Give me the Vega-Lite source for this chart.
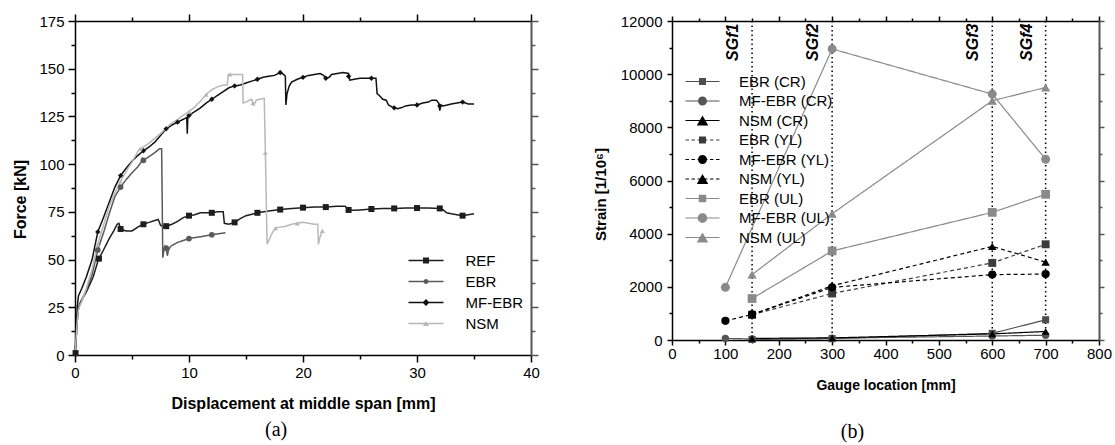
{
  "$schema": "https://vega.github.io/schema/vega-lite/v6.json",
  "padding": {"left": 12, "top": 13, "right": 5, "bottom": 5},
  "spacing": 53,
  "resolve": {"scale": {"color": "independent", "fill": "independent", "shape": "independent", "size": "independent", "strokeDash": "independent"}, "legend": {"color": "independent", "fill": "independent", "shape": "independent", "size": "independent", "strokeDash": "independent"}},
  "config": {"view": {"stroke": null}, "font": "Liberation Sans", "axis": {"grid": false, "labelColor": "#000", "titleColor": "#000", "labelFont": "Liberation Sans", "titleFont": "Liberation Sans"}},
  "datasets": {
    "curves": [
      {"s":"REF","d":0,"F":0},{"s":"REF","d":0.1,"F":8},{"s":"REF","d":0.2,"F":18},{"s":"REF","d":0.3,"F":24},{"s":"REF","d":0.5,"F":28},{"s":"REF","d":0.8,"F":31},{"s":"REF","d":1.0,"F":33},{"s":"REF","d":1.3,"F":37},{"s":"REF","d":1.6,"F":41},{"s":"REF","d":2.0,"F":49},{"s":"REF","d":2.1,"F":50.5},{"s":"REF","d":2.5,"F":55},{"s":"REF","d":3.0,"F":61},{"s":"REF","d":3.4,"F":65},{"s":"REF","d":3.7,"F":68.5},{"s":"REF","d":3.85,"F":69},{"s":"REF","d":4.0,"F":66},{"s":"REF","d":4.2,"F":65.5},{"s":"REF","d":4.5,"F":65},{"s":"REF","d":5.0,"F":65},{"s":"REF","d":5.5,"F":67},{"s":"REF","d":6.0,"F":68.5},{"s":"REF","d":6.5,"F":69.5},{"s":"REF","d":7.0,"F":70.5},{"s":"REF","d":7.3,"F":71},{"s":"REF","d":7.5,"F":68},{"s":"REF","d":7.8,"F":67},{"s":"REF","d":8.0,"F":67.5},{"s":"REF","d":8.5,"F":68.5},{"s":"REF","d":9.0,"F":70},{"s":"REF","d":9.5,"F":72},{"s":"REF","d":10.0,"F":73},{"s":"REF","d":10.5,"F":73.5},{"s":"REF","d":11.0,"F":74.5},{"s":"REF","d":12.0,"F":74.5},{"s":"REF","d":12.5,"F":75},{"s":"REF","d":13.0,"F":75},{"s":"REF","d":13.1,"F":69},{"s":"REF","d":13.5,"F":68.5},{"s":"REF","d":14.0,"F":69.5},{"s":"REF","d":14.5,"F":71.5},{"s":"REF","d":15.0,"F":73},{"s":"REF","d":16.0,"F":74.5},{"s":"REF","d":17.0,"F":75.5},{"s":"REF","d":18.0,"F":76.2},{"s":"REF","d":19.0,"F":76.8},{"s":"REF","d":20.0,"F":77.2},{"s":"REF","d":21.0,"F":77.5},{"s":"REF","d":22.0,"F":77.5},{"s":"REF","d":23.0,"F":78},{"s":"REF","d":23.7,"F":78},{"s":"REF","d":24.0,"F":76},{"s":"REF","d":24.5,"F":75.8},{"s":"REF","d":25.0,"F":76},{"s":"REF","d":26.0,"F":76.5},{"s":"REF","d":27.0,"F":76.8},{"s":"REF","d":28.0,"F":76.8},{"s":"REF","d":29.0,"F":77},{"s":"REF","d":30.0,"F":77},{"s":"REF","d":31.0,"F":77},{"s":"REF","d":32.0,"F":76.8},{"s":"REF","d":32.3,"F":76},{"s":"REF","d":32.6,"F":74.5},{"s":"REF","d":33.0,"F":74},{"s":"REF","d":34.0,"F":73},{"s":"REF","d":34.5,"F":73.5},{"s":"REF","d":35.0,"F":74},
      {"s":"EBR","d":0,"F":0},{"s":"EBR","d":0.1,"F":10},{"s":"EBR","d":0.2,"F":20},{"s":"EBR","d":0.3,"F":25},{"s":"EBR","d":0.6,"F":29},{"s":"EBR","d":1.0,"F":34},{"s":"EBR","d":1.5,"F":42},{"s":"EBR","d":2.0,"F":55},{"s":"EBR","d":2.5,"F":64},{"s":"EBR","d":3.0,"F":74},{"s":"EBR","d":3.5,"F":83},{"s":"EBR","d":4.0,"F":88},{"s":"EBR","d":4.5,"F":92},{"s":"EBR","d":5.0,"F":95.5},{"s":"EBR","d":5.5,"F":98.5},{"s":"EBR","d":5.8,"F":101},{"s":"EBR","d":5.9,"F":103},{"s":"EBR","d":6.0,"F":102},{"s":"EBR","d":6.5,"F":104},{"s":"EBR","d":7.0,"F":106},{"s":"EBR","d":7.4,"F":108},{"s":"EBR","d":7.6,"F":108},{"s":"EBR","d":7.65,"F":80},{"s":"EBR","d":7.7,"F":51},{"s":"EBR","d":7.8,"F":55},{"s":"EBR","d":7.9,"F":57},{"s":"EBR","d":8.0,"F":56},{"s":"EBR","d":8.1,"F":52},{"s":"EBR","d":8.2,"F":55},{"s":"EBR","d":8.4,"F":57},{"s":"EBR","d":8.7,"F":58},{"s":"EBR","d":9.0,"F":59},{"s":"EBR","d":9.5,"F":60},{"s":"EBR","d":10.0,"F":61},{"s":"EBR","d":11.0,"F":62},{"s":"EBR","d":12.0,"F":63},{"s":"EBR","d":13.2,"F":64},
      {"s":"MF-EBR","d":0,"F":0},{"s":"MF-EBR","d":0.1,"F":12},{"s":"MF-EBR","d":0.2,"F":25},{"s":"MF-EBR","d":0.3,"F":31},{"s":"MF-EBR","d":0.6,"F":35},{"s":"MF-EBR","d":1.0,"F":41},{"s":"MF-EBR","d":1.5,"F":50},{"s":"MF-EBR","d":2.0,"F":64.5},{"s":"MF-EBR","d":2.5,"F":72},{"s":"MF-EBR","d":3.0,"F":80},{"s":"MF-EBR","d":3.5,"F":88},{"s":"MF-EBR","d":4.0,"F":94},{"s":"MF-EBR","d":4.5,"F":98},{"s":"MF-EBR","d":5.0,"F":101.5},{"s":"MF-EBR","d":5.5,"F":104.5},{"s":"MF-EBR","d":6.0,"F":107},{"s":"MF-EBR","d":6.5,"F":109},{"s":"MF-EBR","d":7.0,"F":111.5},{"s":"MF-EBR","d":7.5,"F":115},{"s":"MF-EBR","d":8.0,"F":118.5},{"s":"MF-EBR","d":8.5,"F":120.5},{"s":"MF-EBR","d":9.0,"F":122},{"s":"MF-EBR","d":9.5,"F":123.5},{"s":"MF-EBR","d":9.8,"F":124.5},{"s":"MF-EBR","d":9.85,"F":116},{"s":"MF-EBR","d":9.9,"F":125},{"s":"MF-EBR","d":10.0,"F":125.5},{"s":"MF-EBR","d":10.5,"F":127.5},{"s":"MF-EBR","d":11.0,"F":129.5},{"s":"MF-EBR","d":11.5,"F":132},{"s":"MF-EBR","d":12.0,"F":134},{"s":"MF-EBR","d":12.5,"F":136},{"s":"MF-EBR","d":13.0,"F":138},{"s":"MF-EBR","d":13.5,"F":140},{"s":"MF-EBR","d":14.0,"F":141},{"s":"MF-EBR","d":14.5,"F":141.5},{"s":"MF-EBR","d":15.0,"F":142.5},{"s":"MF-EBR","d":15.5,"F":143.5},{"s":"MF-EBR","d":16.0,"F":144.5},{"s":"MF-EBR","d":16.5,"F":145.5},{"s":"MF-EBR","d":17.0,"F":146},{"s":"MF-EBR","d":17.5,"F":146.5},{"s":"MF-EBR","d":18.0,"F":148},{"s":"MF-EBR","d":18.3,"F":147},{"s":"MF-EBR","d":18.45,"F":146},{"s":"MF-EBR","d":18.5,"F":131},{"s":"MF-EBR","d":18.6,"F":137},{"s":"MF-EBR","d":18.8,"F":141},{"s":"MF-EBR","d":19.0,"F":143},{"s":"MF-EBR","d":19.5,"F":144.5},{"s":"MF-EBR","d":20.0,"F":145.5},{"s":"MF-EBR","d":20.5,"F":146.5},{"s":"MF-EBR","d":21.0,"F":147},{"s":"MF-EBR","d":21.5,"F":147.5},{"s":"MF-EBR","d":21.8,"F":146.5},{"s":"MF-EBR","d":22.0,"F":145},{"s":"MF-EBR","d":22.3,"F":145.5},{"s":"MF-EBR","d":22.5,"F":147},{"s":"MF-EBR","d":23.0,"F":147.5},{"s":"MF-EBR","d":23.5,"F":148},{"s":"MF-EBR","d":24.0,"F":147.5},{"s":"MF-EBR","d":24.1,"F":144},{"s":"MF-EBR","d":24.5,"F":144.5},{"s":"MF-EBR","d":25.0,"F":145},{"s":"MF-EBR","d":25.5,"F":145},{"s":"MF-EBR","d":26.0,"F":145},{"s":"MF-EBR","d":26.4,"F":145},{"s":"MF-EBR","d":26.5,"F":137},{"s":"MF-EBR","d":26.7,"F":136},{"s":"MF-EBR","d":27.0,"F":134},{"s":"MF-EBR","d":27.3,"F":133.5},{"s":"MF-EBR","d":27.5,"F":131},{"s":"MF-EBR","d":27.8,"F":130},{"s":"MF-EBR","d":28.0,"F":129.5},{"s":"MF-EBR","d":28.3,"F":129},{"s":"MF-EBR","d":28.6,"F":129.5},{"s":"MF-EBR","d":29.0,"F":130.5},{"s":"MF-EBR","d":29.5,"F":131},{"s":"MF-EBR","d":30.0,"F":131},{"s":"MF-EBR","d":30.5,"F":132},{"s":"MF-EBR","d":31.0,"F":132.5},{"s":"MF-EBR","d":31.3,"F":133.5},{"s":"MF-EBR","d":31.7,"F":133.5},{"s":"MF-EBR","d":31.9,"F":132},{"s":"MF-EBR","d":32.0,"F":128},{"s":"MF-EBR","d":32.1,"F":131},{"s":"MF-EBR","d":32.3,"F":130.5},{"s":"MF-EBR","d":33.0,"F":131.5},{"s":"MF-EBR","d":33.5,"F":132},{"s":"MF-EBR","d":34.0,"F":132.5},{"s":"MF-EBR","d":34.5,"F":131.5},{"s":"MF-EBR","d":35.0,"F":131.5},
      {"s":"NSM","d":0,"F":0},{"s":"NSM","d":0.1,"F":9},{"s":"NSM","d":0.2,"F":18},{"s":"NSM","d":0.3,"F":24},{"s":"NSM","d":0.6,"F":28},{"s":"NSM","d":1.0,"F":35},{"s":"NSM","d":1.5,"F":45},{"s":"NSM","d":2.0,"F":58},{"s":"NSM","d":2.5,"F":68},{"s":"NSM","d":3.0,"F":78},{"s":"NSM","d":3.5,"F":85},{"s":"NSM","d":4.0,"F":91},{"s":"NSM","d":4.5,"F":96.5},{"s":"NSM","d":5.0,"F":101},{"s":"NSM","d":5.5,"F":106.5},{"s":"NSM","d":5.7,"F":108},{"s":"NSM","d":6.0,"F":109},{"s":"NSM","d":6.5,"F":111},{"s":"NSM","d":7.0,"F":113.5},{"s":"NSM","d":7.5,"F":116},{"s":"NSM","d":8.0,"F":119},{"s":"NSM","d":8.5,"F":121.5},{"s":"NSM","d":9.0,"F":123.5},{"s":"NSM","d":9.5,"F":125.5},{"s":"NSM","d":10.0,"F":127.5},{"s":"NSM","d":10.5,"F":130},{"s":"NSM","d":11.0,"F":133},{"s":"NSM","d":11.5,"F":136.5},{"s":"NSM","d":12.0,"F":139},{"s":"NSM","d":12.5,"F":140.5},{"s":"NSM","d":13.0,"F":141.5},{"s":"NSM","d":13.35,"F":141.5},{"s":"NSM","d":13.45,"F":147},{"s":"NSM","d":14.0,"F":147},{"s":"NSM","d":14.7,"F":147},{"s":"NSM","d":14.75,"F":132},{"s":"NSM","d":15.0,"F":132.5},{"s":"NSM","d":15.3,"F":133.5},{"s":"NSM","d":15.5,"F":134},{"s":"NSM","d":15.7,"F":131},{"s":"NSM","d":15.9,"F":133.5},{"s":"NSM","d":16.2,"F":134},{"s":"NSM","d":16.6,"F":134.5},{"s":"NSM","d":16.7,"F":106},{"s":"NSM","d":16.85,"F":58},{"s":"NSM","d":17.0,"F":60},{"s":"NSM","d":17.3,"F":64},{"s":"NSM","d":17.6,"F":66.5},{"s":"NSM","d":18.0,"F":67},{"s":"NSM","d":18.5,"F":67.5},{"s":"NSM","d":19.0,"F":68.5},{"s":"NSM","d":19.5,"F":69},{"s":"NSM","d":20.0,"F":69.5},{"s":"NSM","d":20.5,"F":69},{"s":"NSM","d":21.0,"F":68.5},{"s":"NSM","d":21.3,"F":68.5},{"s":"NSM","d":21.35,"F":58},{"s":"NSM","d":21.5,"F":62},{"s":"NSM","d":21.7,"F":65},{"s":"NSM","d":21.8,"F":64.5}
    ],
    "marksA": [
      {"s":"REF","d":0.05,"F":1},{"s":"REF","d":2.1,"F":50.5},{"s":"REF","d":4.0,"F":66},{"s":"REF","d":6.0,"F":68.5},{"s":"REF","d":8.0,"F":67.5},{"s":"REF","d":10.0,"F":73},{"s":"REF","d":12.0,"F":74.5},{"s":"REF","d":14.0,"F":69.5},{"s":"REF","d":16.0,"F":74.5},{"s":"REF","d":18.0,"F":76.2},{"s":"REF","d":20.0,"F":77.2},{"s":"REF","d":22.0,"F":77.5},{"s":"REF","d":24.0,"F":76},{"s":"REF","d":26.0,"F":76.5},{"s":"REF","d":28.0,"F":76.8},{"s":"REF","d":30.0,"F":77},{"s":"REF","d":32.0,"F":76.8},{"s":"REF","d":34.0,"F":73},
      {"s":"EBR","d":2.0,"F":55},{"s":"EBR","d":4.0,"F":88},{"s":"EBR","d":6.0,"F":102},{"s":"EBR","d":8.0,"F":56},{"s":"EBR","d":10.0,"F":61},{"s":"EBR","d":12.0,"F":63},
      {"s":"MF-EBR","d":2.0,"F":64.5},{"s":"MF-EBR","d":4.0,"F":94},{"s":"MF-EBR","d":6.0,"F":107},{"s":"MF-EBR","d":8.0,"F":118.5},{"s":"MF-EBR","d":9.0,"F":122},{"s":"MF-EBR","d":10.0,"F":125.5},{"s":"MF-EBR","d":12.0,"F":134},{"s":"MF-EBR","d":14.0,"F":141},{"s":"MF-EBR","d":16.0,"F":144.5},{"s":"MF-EBR","d":18.0,"F":148},{"s":"MF-EBR","d":20.0,"F":145.5},{"s":"MF-EBR","d":22.0,"F":145},{"s":"MF-EBR","d":24.0,"F":146},{"s":"MF-EBR","d":26.0,"F":145},{"s":"MF-EBR","d":28.0,"F":129.5},{"s":"MF-EBR","d":30.0,"F":131},{"s":"MF-EBR","d":32.0,"F":130.5},{"s":"MF-EBR","d":34.0,"F":132.5},
      {"s":"NSM","d":2.0,"F":58},{"s":"NSM","d":4.0,"F":91},{"s":"NSM","d":5.7,"F":108},{"s":"NSM","d":10.0,"F":127.5},{"s":"NSM","d":11.5,"F":136.5},{"s":"NSM","d":13.6,"F":147},{"s":"NSM","d":15.6,"F":132},{"s":"NSM","d":16.7,"F":106},{"s":"NSM","d":17.6,"F":66.5},{"s":"NSM","d":19.5,"F":69},{"s":"NSM","d":21.7,"F":65}
    ],
    "strain": [
      {"s":"EBR (CR)","g":150,"e":20},{"s":"EBR (CR)","g":300,"e":50},{"s":"EBR (CR)","g":600,"e":250},{"s":"EBR (CR)","g":700,"e":760},
      {"s":"MF-EBR (CR)","g":100,"e":60},{"s":"MF-EBR (CR)","g":150,"e":40},{"s":"MF-EBR (CR)","g":300,"e":70},{"s":"MF-EBR (CR)","g":600,"e":150},{"s":"MF-EBR (CR)","g":700,"e":180},
      {"s":"NSM (CR)","g":150,"e":60},{"s":"NSM (CR)","g":300,"e":80},{"s":"NSM (CR)","g":600,"e":230},{"s":"NSM (CR)","g":700,"e":320},
      {"s":"EBR (YL)","g":150,"e":950},{"s":"EBR (YL)","g":300,"e":1750},{"s":"EBR (YL)","g":600,"e":2900},{"s":"EBR (YL)","g":700,"e":3600},
      {"s":"MF-EBR (YL)","g":100,"e":720},{"s":"MF-EBR (YL)","g":150,"e":960},{"s":"MF-EBR (YL)","g":300,"e":1980},{"s":"MF-EBR (YL)","g":600,"e":2460},{"s":"MF-EBR (YL)","g":700,"e":2480},
      {"s":"NSM (YL)","g":150,"e":960},{"s":"NSM (YL)","g":300,"e":2040},{"s":"NSM (YL)","g":600,"e":3520},{"s":"NSM (YL)","g":700,"e":2930},
      {"s":"EBR (UL)","g":150,"e":1560},{"s":"EBR (UL)","g":300,"e":3350},{"s":"EBR (UL)","g":600,"e":4800},{"s":"EBR (UL)","g":700,"e":5480},
      {"s":"MF-EBR (UL)","g":100,"e":1980},{"s":"MF-EBR (UL)","g":300,"e":10950},{"s":"MF-EBR (UL)","g":600,"e":9250},{"s":"MF-EBR (UL)","g":700,"e":6800},
      {"s":"NSM (UL)","g":150,"e":2460},{"s":"NSM (UL)","g":300,"e":4750},{"s":"NSM (UL)","g":600,"e":9000},{"s":"NSM (UL)","g":700,"e":9500}
    ],
    "gauges": [
      {"g":150,"label":"SGf1"},{"g":300,"label":"SGf2"},{"g":600,"label":"SGf3"},{"g":700,"label":"SGf4"}
    ]
  },
  "hconcat": [
    {
      "width": 456,
      "height": 334,
      "title": {"text": "(a)", "orient": "bottom", "font": "Liberation Serif", "fontSize": 20, "fontWeight": "normal", "color": "#000", "offset": 9, "frame": "bounds", "anchor": "middle"},
      "resolve": {"scale": {"shape": "independent", "fill": "independent"}},
      "layer": [
        {
          "data": {"name": "curves"},
          "mark": {"type": "line", "strokeWidth": 1.5},
          "encoding": {
            "x": {"field": "d", "type": "quantitative", "scale": {"domain": [0, 40], "nice": false, "zero": false},
              "axis": {"orient": "bottom", "values": [0,5,10,15,20,25,30,35,40], "labelExpr": "datum.value % 10 === 0 ? datum.label : ''", "tickSize": {"condition": {"test": "datum.value % 10 === 0", "value": 7}, "value": 4}, "title": "Displacement at middle span [mm]", "titleFontSize": 16, "titleFontWeight": "bold", "titlePadding": 15, "labelFontSize": 15, "labelPadding": 3, "labelFlush": false, "labelOverlap": false, "domainColor": "#000", "domainWidth": 1.5, "tickColor": "#000", "tickWidth": 1.5}},
            "y": {"field": "F", "type": "quantitative", "scale": {"domain": [0, 175], "nice": false},
              "axis": {"orient": "left", "values": [0,12.5,25,37.5,50,62.5,75,87.5,100,112.5,125,137.5,150,162.5,175], "labelExpr": "datum.value % 25 === 0 ? datum.label : ''", "tickSize": {"condition": {"test": "datum.value % 25 === 0", "value": 7}, "value": 4}, "title": "Force [kN]", "titleFontSize": 16, "titleFontWeight": "bold", "titlePadding": 10, "titleY": 178, "labelFontSize": 15, "labelPadding": 4, "labelFlush": false, "labelOverlap": false, "domainColor": "#000", "domainWidth": 1.5, "tickColor": "#000", "tickWidth": 1.5}},
            "color": {"field": "s", "type": "nominal", "scale": {"domain": ["REF","EBR","MF-EBR","NSM"], "range": ["#1e1e1e","#5a5a5a","#111111","#b8b8b8"]}, "legend": null}
          }
        },
        {
          "data": {"name": "marksA"},
          "mark": {"type": "point", "filled": true, "opacity": 1},
          "encoding": {
            "x": {"field": "d", "type": "quantitative",
              "axis": {"orient": "top", "values": [0,5,10,15,20,25,30,35,40], "labels": false, "title": null, "tickSize": {"condition": {"test": "datum.value % 10 === 0", "value": 7}, "value": 4}, "domainColor": "#000", "domainWidth": 1.5, "tickColor": "#000", "tickWidth": 1.5}},
            "y": {"field": "F", "type": "quantitative",
              "axis": {"orient": "right", "values": [0,12.5,25,37.5,50,62.5,75,87.5,100,112.5,125,137.5,150,162.5,175], "labels": false, "title": null, "tickSize": {"condition": {"test": "datum.value % 25 === 0", "value": 7}, "value": 4}, "domainColor": "#555", "domainWidth": 2, "tickColor": "#555", "tickWidth": 1.5}},
            "color": {"field": "s", "type": "nominal", "legend": null},
            "shape": {"field": "s", "type": "nominal", "scale": {"domain": ["REF","EBR","MF-EBR","NSM"], "range": ["square","circle","diamond","triangle-up"]}, "legend": null},
            "size": {"field": "s", "type": "nominal", "scale": {"domain": ["REF","EBR","MF-EBR","NSM"], "range": [36,25,49,36]}, "legend": null}
          }
        },
        {
          "data": {"values": []},
          "mark": {"type": "point", "filled": true},
          "encoding": {
            "x": {"field": "d", "type": "quantitative", "axis": null},
            "y": {"field": "F", "type": "quantitative", "axis": null},
            "fill": {"field": "s", "type": "nominal", "scale": {"domain": ["REF","EBR","MF-EBR","NSM"], "range": ["#1e1e1e","#5a5a5a","#111111","#b8b8b8"]},
              "legend": {"orient": "none", "legendX": 331, "legendY": 232, "title": null, "padding": 0, "symbolSize": 100, "symbolStrokeWidth": 0, "symbolOpacity": 1, "symbolOffset": 12.5, "labelOffset": 32, "rowPadding": 5, "labelFontSize": 15, "labelFont": "Liberation Sans", "labelColor": "#000"}},
            "shape": {"field": "s", "type": "nominal", "scale": {"domain": ["REF","EBR","MF-EBR","NSM"], "range": [
              "M-3.5,-0.14H3.5V0.14H-3.5ZM-0.6,-0.6H0.6V0.6H-0.6Z",
              "M-3.5,-0.14H3.5V0.14H-3.5ZM0.5,0A0.5,0.5,0,1,1,-0.5,0A0.5,0.5,0,1,1,0.5,0Z",
              "M-3.5,-0.14H3.5V0.14H-3.5ZM0,-0.7L0.7,0L0,0.7L-0.7,0Z",
              "M-3.5,-0.14H3.5V0.14H-3.5ZM0,-0.52L0.6,0.52L-0.6,0.52Z"
            ]},
              "legend": {"orient": "none", "legendX": 331, "legendY": 232, "title": null, "padding": 0, "symbolSize": 100, "symbolStrokeWidth": 0, "symbolOpacity": 1, "symbolOffset": 12.5, "labelOffset": 32, "rowPadding": 5, "labelFontSize": 15, "labelFont": "Liberation Sans", "labelColor": "#000"}}
          }
        }
      ]
    },
    {
      "width": 427,
      "height": 319,
      "title": {"text": "(b)", "orient": "bottom", "font": "Liberation Serif", "fontSize": 20, "fontWeight": "normal", "color": "#000", "offset": 30, "frame": "bounds", "anchor": "middle"},
      "resolve": {"scale": {"shape": "independent", "fill": "independent"}},
      "layer": [
        {
          "data": {"name": "gauges"},
          "mark": {"type": "rule", "color": "#000", "strokeWidth": 1.5, "strokeDash": [1.5, 3]},
          "encoding": {
            "x": {"field": "g", "type": "quantitative", "scale": {"domain": [0, 800], "nice": false, "zero": false}, "axis": null}
          }
        },
        {
          "data": {"name": "gauges"},
          "mark": {"type": "text", "angle": 270, "align": "center", "baseline": "alphabetic", "dy": -14, "font": "Liberation Sans", "fontSize": 16, "fontWeight": "bold", "fontStyle": "italic", "color": "#000"},
          "encoding": {
            "x": {"field": "g", "type": "quantitative", "axis": null},
            "y": {"datum": 11200, "type": "quantitative", "axis": null},
            "text": {"field": "label"}
          }
        },
        {
          "data": {"name": "strain"},
          "mark": {"type": "line", "strokeWidth": 1.2},
          "encoding": {
            "x": {"field": "g", "type": "quantitative",
              "axis": {"orient": "bottom", "values": [0,50,100,150,200,250,300,350,400,450,500,550,600,650,700,750,800], "labelExpr": "datum.value % 100 === 0 ? datum.label : ''", "tickSize": {"condition": {"test": "datum.value % 100 === 0", "value": 5}, "value": 3}, "title": "Gauge location [mm]", "titleFontSize": 14, "titleFontWeight": "bold", "titlePadding": 17, "labelFontSize": 15, "labelPadding": 1, "labelFlush": false, "labelOverlap": false, "domainColor": "#000", "domainWidth": 1.5, "tickColor": "#000", "tickWidth": 1.5}},
            "y": {"field": "e", "type": "quantitative", "scale": {"domain": [0, 12000], "nice": false},
              "axis": {"orient": "left", "values": [0,1000,2000,3000,4000,5000,6000,7000,8000,9000,10000,11000,12000], "format": "d", "labelExpr": "datum.value % 2000 === 0 ? datum.label : ''", "tickSize": {"condition": {"test": "datum.value % 2000 === 0", "value": 5}, "value": 3}, "title": "Strain [1/10⁶]", "titleFontSize": 15, "titleFontWeight": "bold", "titlePadding": 12, "titleY": 173, "labelFontSize": 15, "labelPadding": 5, "labelFlush": false, "labelOverlap": false, "domainColor": "#000", "domainWidth": 1.5, "tickColor": "#000", "tickWidth": 1.5}},
            "color": {"field": "s", "type": "nominal", "scale": {"domain": ["EBR (CR)","MF-EBR (CR)","NSM (CR)","EBR (YL)","MF-EBR (YL)","NSM (YL)","EBR (UL)","MF-EBR (UL)","NSM (UL)"], "range": ["#4d4d4d","#555555","#000000","#3c3c3c","#000000","#000000","#8a8a8a","#8a8a8a","#8a8a8a"]}, "legend": null},
            "strokeDash": {"field": "s", "type": "nominal", "scale": {"domain": ["EBR (CR)","MF-EBR (CR)","NSM (CR)","EBR (YL)","MF-EBR (YL)","NSM (YL)","EBR (UL)","MF-EBR (UL)","NSM (UL)"], "range": [[1,0],[1,0],[1,0],[4,3],[4,3],[4,3],[1,0],[1,0],[1,0]]}, "legend": null}
          }
        },
        {
          "data": {"name": "strain"},
          "mark": {"type": "point", "filled": true, "opacity": 1},
          "encoding": {
            "x": {"field": "g", "type": "quantitative",
              "axis": {"orient": "top", "values": [0,50,100,150,200,250,300,350,400,450,500,550,600,650,700,750,800], "labels": false, "title": null, "tickSize": {"condition": {"test": "datum.value % 100 === 0", "value": 5}, "value": 3}, "domainColor": "#000", "domainWidth": 1.5, "tickColor": "#000", "tickWidth": 1.5}},
            "y": {"field": "e", "type": "quantitative",
              "axis": {"orient": "right", "values": [0,1000,2000,3000,4000,5000,6000,7000,8000,9000,10000,11000,12000], "labels": false, "title": null, "tickSize": {"condition": {"test": "datum.value % 2000 === 0", "value": 5}, "value": 3}, "domainColor": "#555", "domainWidth": 2, "tickColor": "#555", "tickWidth": 1.5}},
            "color": {"field": "s", "type": "nominal", "legend": null},
            "shape": {"field": "s", "type": "nominal", "scale": {"domain": ["EBR (CR)","MF-EBR (CR)","NSM (CR)","EBR (YL)","MF-EBR (YL)","NSM (YL)","EBR (UL)","MF-EBR (UL)","NSM (UL)"], "range": ["square","circle","triangle-up","square","circle","triangle-up","square","circle","triangle-up"]}, "legend": null},
            "size": {"field": "s", "type": "nominal", "scale": {"domain": ["EBR (CR)","MF-EBR (CR)","NSM (CR)","EBR (YL)","MF-EBR (YL)","NSM (YL)","EBR (UL)","MF-EBR (UL)","NSM (UL)"], "range": [50,85,140,50,95,140,60,95,140]}, "legend": null}
          }
        },
        {
          "data": {"values": []},
          "mark": {"type": "point", "filled": true},
          "encoding": {
            "x": {"field": "g", "type": "quantitative", "axis": null},
            "y": {"field": "e", "type": "quantitative", "axis": null},
            "fill": {"field": "s", "type": "nominal", "scale": {"domain": ["EBR (CR)","MF-EBR (CR)","NSM (CR)","EBR (YL)","MF-EBR (YL)","NSM (YL)","EBR (UL)","MF-EBR (UL)","NSM (UL)"], "range": ["#4d4d4d","#555555","#000000","#3c3c3c","#000000","#000000","#8a8a8a","#8a8a8a","#8a8a8a"]},
              "legend": {"orient": "none", "legendX": 11, "legendY": 53, "title": null, "padding": 0, "symbolSize": 100, "symbolStrokeWidth": 0, "symbolOpacity": 1, "symbolOffset": 12, "labelOffset": 29, "rowPadding": 3.5, "labelFontSize": 15, "labelFont": "Liberation Sans", "labelColor": "#000"}},
            "shape": {"field": "s", "type": "nominal", "scale": {"domain": ["EBR (CR)","MF-EBR (CR)","NSM (CR)","EBR (YL)","MF-EBR (YL)","NSM (YL)","EBR (UL)","MF-EBR (UL)","NSM (UL)"], "range": [
              "M-3.4,-0.12H3.4V0.12H-3.4ZM-0.7,-0.7H0.7V0.7H-0.7Z",
              "M-3.4,-0.12H3.4V0.12H-3.4ZM0.9,0A0.9,0.9,0,1,1,-0.9,0A0.9,0.9,0,1,1,0.9,0Z",
              "M-3.4,-0.12H3.4V0.12H-3.4ZM0,-1L1.15,1L-1.15,1Z",
              "M-3.4,-0.12H-2.7V0.12H-3.4ZM-2.2,-0.12H-1.5V0.12H-2.2ZM1.5,-0.12H2.2V0.12H1.5ZM2.7,-0.12H3.4V0.12H2.7ZM-1,-0.12H1V0.12H-1ZM-0.7,-0.7H0.7V0.7H-0.7Z",
              "M-3.4,-0.12H-2.7V0.12H-3.4ZM-2.2,-0.12H-1.5V0.12H-2.2ZM1.5,-0.12H2.2V0.12H1.5ZM2.7,-0.12H3.4V0.12H2.7ZM-1,-0.12H1V0.12H-1ZM0.9,0A0.9,0.9,0,1,1,-0.9,0A0.9,0.9,0,1,1,0.9,0Z",
              "M-3.4,-0.12H-2.7V0.12H-3.4ZM-2.2,-0.12H-1.5V0.12H-2.2ZM1.5,-0.12H2.2V0.12H1.5ZM2.7,-0.12H3.4V0.12H2.7ZM-1,-0.12H1V0.12H-1ZM0,-1L1.15,1L-1.15,1Z",
              "M-3.4,-0.12H3.4V0.12H-3.4ZM-0.75,-0.75H0.75V0.75H-0.75Z",
              "M-3.4,-0.12H3.4V0.12H-3.4ZM0.95,0A0.95,0.95,0,1,1,-0.95,0A0.95,0.95,0,1,1,0.95,0Z",
              "M-3.4,-0.12H3.4V0.12H-3.4ZM0,-1L1.15,1L-1.15,1Z"
            ]},
              "legend": {"orient": "none", "legendX": 11, "legendY": 53, "title": null, "padding": 0, "symbolSize": 100, "symbolStrokeWidth": 0, "symbolOpacity": 1, "symbolOffset": 12, "labelOffset": 29, "rowPadding": 3.5, "labelFontSize": 15, "labelFont": "Liberation Sans", "labelColor": "#000"}}
          }
        }
      ]
    }
  ]
}
